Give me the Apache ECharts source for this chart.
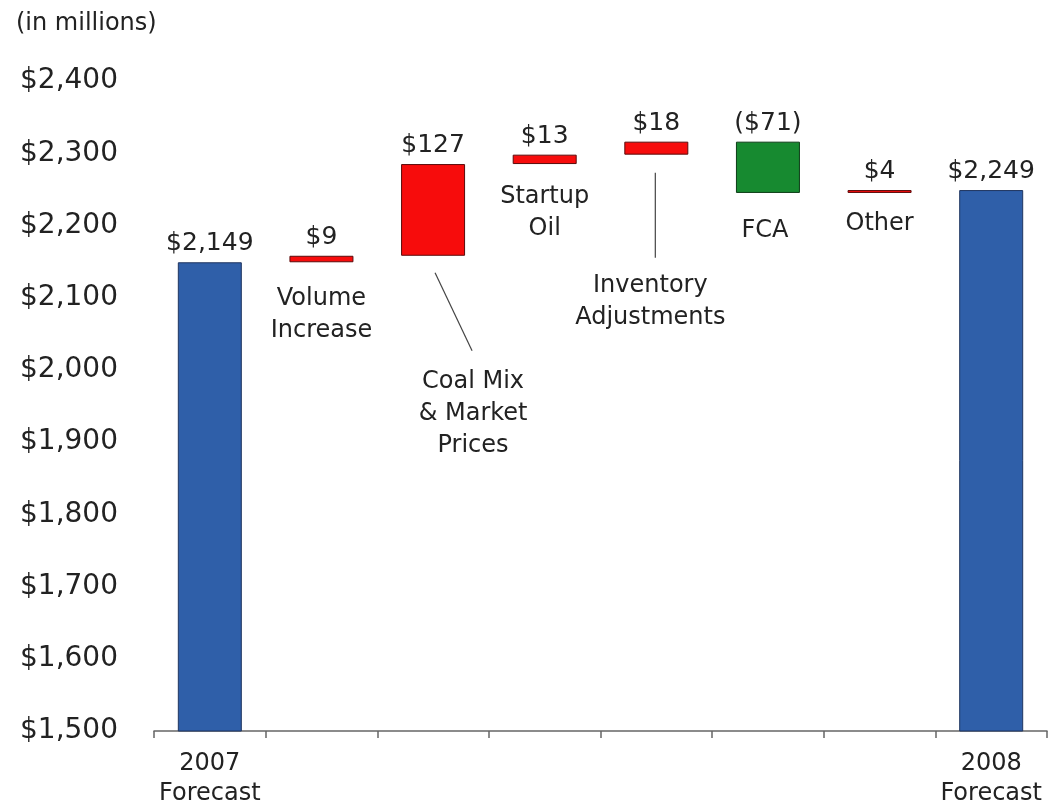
<!DOCTYPE html>
<html>
<head>
<meta charset="utf-8">
<script src="https://cdn.jsdelivr.net/npm/echarts@6/dist/echarts.min.js"></script>
<style>
  html, body { margin: 0; padding: 0; background: #fff; }
  #chart { width: 1055px; height: 810px; }
</style>
</head>
<body>
<div id="chart"></div>
<script>
// 数据
const categories = ['2007\nForecast', 'Volume\nIncrease', 'Coal Mix\n& Market\nPrices', 'Startup\nOil',
  'Inventory\nAdjustments', 'FCA', 'Other', '2008\nForecast'];
const startValue = 2149;
const deltas = [9, 127, 13, 18, -71, 4];
const endValue = 2249;
const yTicks = [1500, 2400, 100]; // min, max, interval

// 文字位置 (px, 相对于浮动柱底部)
const noteLayout = {
  1: { dx: 0, dy: 20 },
  2: { dx: 40, dy: 110, line: [2, 17, 39, 95] },
  3: { dx: 0, dy: 17 },
  4: { dx: -6, dy: 115, line: [-1, 18, -1, 103] },
  5: { dx: -3, dy: 22 },
  6: { dx: 0, dy: 15 }
};

const fmtMoney = v => '$' + Math.abs(v).toLocaleString('en-US');

// 瀑布图: 透明底 + 可见柱
const baseData = [0];
const barData = [startValue];
const labels = [fmtMoney(startValue)];
const colors = ['#2f5fa9'];
const borders = ['#1f3560'];
let running = startValue;
deltas.forEach(d => {
  const next = running + d;
  baseData.push(Math.min(running, next));
  barData.push(Math.abs(d));
  labels.push(d < 0 ? '(' + fmtMoney(d) + ')' : fmtMoney(d));
  colors.push(d < 0 ? '#178a30' : '#f70c0c');
  borders.push(d < 0 ? '#0d3d17' : '#5a0b0b');
  running = next;
});
baseData.push(0);
barData.push(endValue);
labels.push(fmtMoney(endValue));
colors.push('#2f5fa9');
borders.push('#1f3560');

const noteData = [];
for (let i = 1; i < categories.length - 1; i++) noteData.push([i, baseData[i]]);

const FONT = 'DejaVu Sans, sans-serif';

const option = {
  animation: false,
  backgroundColor: '#fff',
  title: {
    text: '(in millions)',
    left: 11, top: 7,
    textStyle: { fontFamily: FONT, fontSize: 24, fontWeight: 'normal', color: '#222' }
  },
  grid: { left: 154, right: 8, top: 81, bottom: 79, containLabel: false },
  xAxis: {
    type: 'category',
    data: categories,
    axisLine: { lineStyle: { color: '#666', width: 1.5 } },
    axisTick: { show: true, alignWithLabel: false, length: 7, lineStyle: { color: '#666', width: 1.5 } },
    axisLabel: {
      interval: 0, margin: 18,
      fontFamily: FONT, fontSize: 24, lineHeight: 30, color: '#222',
      formatter: (v, i) => (i === 0 || i === categories.length - 1) ? v : ''
    }
  },
  yAxis: {
    type: 'value',
    min: yTicks[0], max: yTicks[1], interval: yTicks[2],
    axisLine: { show: false },
    axisTick: { show: false },
    splitLine: { show: false },
    axisLabel: {
      margin: 36, fontFamily: FONT, fontSize: 28, color: '#222',
      formatter: v => fmtMoney(v)
    }
  },
  series: [
    {
      type: 'bar', stack: 'w', barWidth: 64, silent: true,
      itemStyle: { color: 'transparent' },
      data: baseData
    },
    {
      type: 'bar', stack: 'w', barWidth: 64,
      data: barData.map((v, i) => ({
        value: v,
        itemStyle: { color: colors[i], borderColor: borders[i], borderWidth: 1 }
      })),
      label: {
        show: true, position: 'top', distance: 6,
        fontFamily: FONT, fontSize: 25, color: '#222',
        formatter: p => labels[p.dataIndex]
      }
    },
    {
      type: 'custom',
      silent: true,
      data: noteData,
      renderItem: (params, api) => {
        const idx = api.value(0);
        const pt = api.coord([idx, api.value(1)]);
        const lay = noteLayout[idx];
        const children = [{
          type: 'text',
          x: pt[0] + lay.dx, y: pt[1] + lay.dy,
          style: {
            text: categories[idx], fill: '#222',
            font: '24px ' + FONT, lineHeight: 32,
            align: 'center', verticalAlign: 'top'
          }
        }];
        if (lay.line) {
          children.push({
            type: 'line',
            shape: { x1: pt[0] + lay.line[0], y1: pt[1] + lay.line[1], x2: pt[0] + lay.line[2], y2: pt[1] + lay.line[3] },
            style: { stroke: '#444', lineWidth: 1.2 }
          });
        }
        return { type: 'group', children: children };
      }
    }
  ]
};

const chart = echarts.init(document.getElementById('chart'));
chart.setOption(option);
</script>
</body>
</html>
